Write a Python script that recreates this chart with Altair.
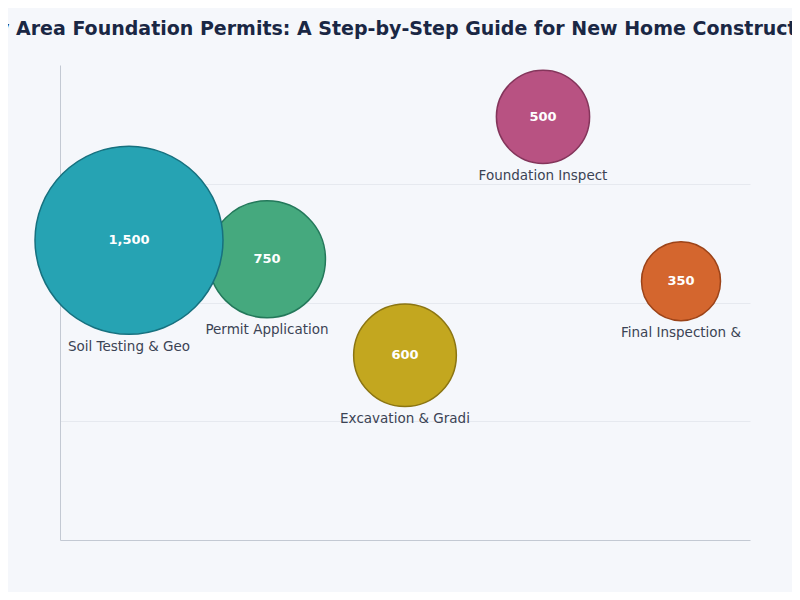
import pandas as pd
import altair as alt

# permit steps, left to right
steps = [
    "Soil Testing & Geo",
    "Permit Application",
    "Excavation & Gradi",
    "Foundation Inspect",
    "Final Inspection &",
]
costs = [1500, 750, 600, 500, 350]
weeks = [12.62, 11.82, 7.78, 17.82, 10.9]
fills = ["#26a3b3", "#45a97e", "#c3a71f", "#b85282", "#d4662e"]
strokes = ["#17717f", "#23785a", "#8b7512", "#84355b", "#9c4318"]

TITLE = "Bay Area Foundation Permits: A Step-by-Step Guide for New Home Construction"
BG = "#f5f7fb"

W, H = 690, 475
Y_MAX = 20

df = pd.DataFrame({"step": steps, "cost": costs, "weeks": weeks,
                   "fill": fills, "stroke": strokes})

# radius grows linearly with cost, from 39.5px to 94px
R_MIN, R_MAX = 39.5, 94.0
lo, hi = min(costs), max(costs)

x_enc = alt.X("step:N", sort=steps,
              scale=alt.Scale(type="point", padding=0.5),
              axis=alt.Axis(labels=False, ticks=False, title=None, grid=False,
                            domainColor="#c3c9d3"))
y_scale = alt.Scale(domain=[0, Y_MAX])

base = alt.Chart(df).transform_calculate(
    r=f"{R_MIN} + (datum.cost - {lo}) * {(R_MAX - R_MIN) / (hi - lo)}"
).transform_calculate(
    diam2="pow(2 * datum.r, 2)",
    # name sits just under the bubble: shift by radius + gap, in data units
    label_y=f"datum.weeks - (datum.r + 12.5) * {Y_MAX / H}",
)

bubbles = base.mark_circle(opacity=1, strokeWidth=1.5).encode(
    x=x_enc,
    y=alt.Y("weeks:Q", scale=y_scale,
            axis=alt.Axis(labels=False, ticks=False, title=None,
                          values=[5, 10, 15], gridColor="#e6e9ef",
                          domainColor="#c3c9d3")),
    size=alt.Size("diam2:Q", scale=None, legend=None),
    color=alt.Color("fill:N", scale=None),
    stroke=alt.Stroke("stroke:N", scale=None),
    order=alt.Order("cost:Q", sort="ascending"),
)

values = base.mark_text(fontSize=13, fontWeight="bold", color="white",
                        font="DejaVu Sans").encode(
    x=x_enc,
    y=alt.Y("weeks:Q", scale=y_scale),
    text=alt.Text("cost:Q", format=","),
)

names = base.mark_text(fontSize=13.5, color="#3b4354", baseline="middle",
                       font="DejaVu Sans").encode(
    x=x_enc,
    y=alt.Y("label_y:Q", scale=y_scale),
    text="step:N",
)

chart = (bubbles + values + names).properties(
    width=W,
    height=H,
    background=BG,
    autosize=alt.AutoSizeParams(type="none"),
    padding={"left": 52, "top": 57, "right": 42, "bottom": 52},
    title=alt.Title(TITLE, fontSize=19, font="DejaVu Sans", fontWeight="bold",
                    color="#1a2744", anchor="middle", offset=26, dx=-5),
).configure_view(stroke=None)

chart.save("out.html", embed_options={"renderer": "svg", "actions": False})
